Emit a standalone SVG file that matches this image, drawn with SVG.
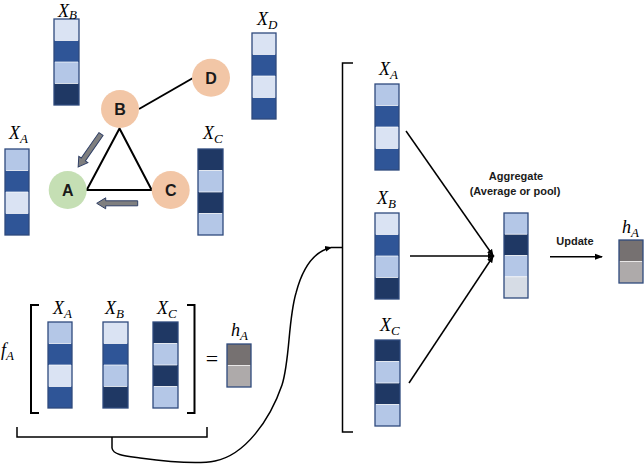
<svg xmlns="http://www.w3.org/2000/svg" width="644" height="466" viewBox="0 0 644 466">
<defs>
<style>
.L{fill:#b4c7e7}.M{fill:#2f5597}.V{fill:#dae3f3}.N{fill:#1f3864}.G{fill:#d6dce5}.H1{fill:#767171}.H2{fill:#aeaaaa}
.sep{stroke:#ffffff;stroke-width:1;stroke-opacity:0.7}
.box{fill:none;stroke:#2f4a7d;stroke-width:1.3}
.lbl{font-family:"Liberation Serif",serif;font-style:italic;font-size:18px;fill:#000}
.sub{font-size:13px}
.node{stroke:none}
.nt{font-family:"Liberation Sans",Arial,sans-serif;font-weight:bold;font-size:16px;fill:#1a1a1a;text-anchor:middle}
.bt{font-family:"Liberation Sans",Arial,sans-serif;font-weight:bold;font-size:11px;fill:#1a1a1a;text-anchor:middle}
.ln{fill:none;stroke:#000;stroke-width:2}
.thin{fill:none;stroke:#000;stroke-width:1.5}
.garrow{fill:#7f7f7f;stroke:#2f3f66;stroke-width:1}
</style>
<marker id="ah" markerWidth="8" markerHeight="8" refX="7" refY="4" orient="auto" markerUnits="userSpaceOnUse">
<path d="M0,1 L8,4 L0,7 Z" fill="#000"/>
</marker>
<marker id="ahs" markerWidth="7" markerHeight="7" refX="6" refY="3.5" orient="auto" markerUnits="userSpaceOnUse">
<path d="M0,0.5 L7,3.5 L0,6.5 Z" fill="#000"/>
</marker>
</defs>

<!-- connectors -->
<g id="connectors">
<line class="ln" x1="139" y1="109" x2="193" y2="78"/>
<polygon class="ln" points="119.5,128.5 86.7,190 151.7,190" stroke-linejoin="miter"/>
<path class="garrow" d="M0,-2.5 L31,-2.5 L31,-5.5 L40,0 L31,5.5 L31,2.5 L0,2.5 Z" transform="translate(101,134) rotate(124.8)"/>
<path class="garrow" d="M0,-2.5 L32,-2.5 L32,-5.5 L41,0 L32,5.5 L32,2.5 L0,2.5 Z" transform="translate(137.7,203.3) rotate(180)"/>
<line class="thin" x1="406" y1="131" x2="493" y2="255.5" marker-end="url(#ahs)"/>
<line class="thin" x1="410" y1="256" x2="494" y2="256" marker-end="url(#ahs)"/>
<line class="thin" x1="409" y1="383" x2="493" y2="256.5" marker-end="url(#ahs)"/>
<line class="thin" x1="550" y1="256.7" x2="602" y2="256.7" marker-end="url(#ah)"/>
<path class="thin" d="M112,437 L112,448 C113,455 125,456 140,458 C170,462 200,464 215,461 C245,455 270,420 282,385 C290,360 288,320 296,293 C302,270 312,252 331,247.5" marker-end="url(#ahs)"/>
<path class="thin" d="M353,63 L342.5,63 L342.5,432 L353,432 M331,247.5 L342.5,247.5"/>
<path class="thin" d="M17,427 L17,437 L207,437 L207,427"/>
<path class="ln" d="M39,305 L31,305 L31,413 L39,413"/>
<path class="ln" d="M187,305 L194.5,305 L194.5,413 L187,413"/>
</g>

<!-- graph nodes -->
<g id="node-A"><circle class="node" cx="67.7" cy="190" r="19" fill="#c5dfb4"/><text class="nt" x="67.7" y="196">A</text></g>
<g id="node-B"><circle class="node" cx="120" cy="109" r="19" fill="#f2c6a6"/><text class="nt" x="120" y="115">B</text></g>
<g id="node-C"><circle class="node" cx="170.7" cy="190" r="19" fill="#f2c6a6"/><text class="nt" x="170.7" y="196">C</text></g>
<g id="node-D"><circle class="node" cx="211" cy="77.7" r="19" fill="#f2c6a6"/><text class="nt" x="211" y="83.7">D</text></g>

<!-- vectors -->
<g id="vec-XB-top">
<rect class="V" x="54" y="19" width="25" height="21.5"/><rect class="M" x="54" y="40.5" width="25" height="21.5"/><rect class="L" x="54" y="62" width="25" height="21.5"/><rect class="N" x="54" y="83.5" width="25" height="21.5"/>
<path class="sep" d="M55,40.5 H78 M55,62 H78 M55,83.5 H78"/><rect class="box" x="54" y="19" width="25" height="86"/>
<text class="lbl" x="58" y="16.5">X<tspan class="sub" dy="2">B</tspan></text>
</g>
<g id="vec-XD">
<rect class="V" x="252" y="33" width="24" height="21.5"/><rect class="M" x="252" y="54.5" width="24" height="21.5"/><rect class="V" x="252" y="76" width="24" height="21.5"/><rect class="M" x="252" y="97.5" width="24" height="21.5"/>
<path class="sep" d="M253,54.5 H275 M253,76 H275 M253,97.5 H275"/><rect class="box" x="252" y="33" width="24" height="86"/>
<text class="lbl" x="257" y="25">X<tspan class="sub" dy="4">D</tspan></text>
</g>
<g id="vec-XA-left">
<rect class="L" x="5" y="149" width="24" height="21.5"/><rect class="M" x="5" y="170.5" width="24" height="21.5"/><rect class="V" x="5" y="192" width="24" height="21.5"/><rect class="M" x="5" y="213.5" width="24" height="21.5"/>
<path class="sep" d="M6,170.5 H28 M6,192 H28 M6,213.5 H28"/><rect class="box" x="5" y="149" width="24" height="86"/>
<text class="lbl" x="9" y="139">X<tspan class="sub" dy="4">A</tspan></text>
</g>
<g id="vec-XC-top">
<rect class="N" x="198" y="149" width="25" height="21.5"/><rect class="L" x="198" y="170.5" width="25" height="21.5"/><rect class="N" x="198" y="192" width="25" height="21.5"/><rect class="L" x="198" y="213.5" width="25" height="21.5"/>
<path class="sep" d="M199,170.5 H222 M199,192 H222 M199,213.5 H222"/><rect class="box" x="198" y="149" width="25" height="86"/>
<text class="lbl" x="203" y="139">X<tspan class="sub" dy="4">C</tspan></text>
</g>

<g id="vec-XA-mid">
<rect class="L" x="375" y="84" width="24" height="21.5"/><rect class="M" x="375" y="105.5" width="24" height="21.5"/><rect class="V" x="375" y="127" width="24" height="21.5"/><rect class="M" x="375" y="148.5" width="24" height="21.5"/>
<path class="sep" d="M376,105.5 H398 M376,127 H398 M376,148.5 H398"/><rect class="box" x="375" y="84" width="24" height="86"/>
<text class="lbl" x="379" y="75">X<tspan class="sub" dy="4">A</tspan></text>
</g>
<g id="vec-XB-mid">
<rect class="V" x="375" y="213" width="24" height="21.5"/><rect class="M" x="375" y="234.5" width="24" height="21.5"/><rect class="L" x="375" y="256" width="24" height="21.5"/><rect class="N" x="375" y="277.5" width="24" height="21.5"/>
<path class="sep" d="M376,234.5 H398 M376,256 H398 M376,277.5 H398"/><rect class="box" x="375" y="213" width="24" height="86"/>
<text class="lbl" x="377" y="204">X<tspan class="sub" dy="4">B</tspan></text>
</g>
<g id="vec-XC-mid">
<rect class="N" x="375" y="340" width="25" height="21.5"/><rect class="L" x="375" y="361.5" width="25" height="21.5"/><rect class="N" x="375" y="383" width="25" height="21.5"/><rect class="L" x="375" y="404.5" width="25" height="21.5"/>
<path class="sep" d="M376,361.5 H399 M376,383 H399 M376,404.5 H399"/><rect class="box" x="375" y="340" width="25" height="86"/>
<text class="lbl" x="380" y="331">X<tspan class="sub" dy="4">C</tspan></text>
</g>

<g id="vec-aggregate">
<rect class="L" x="504" y="213" width="24" height="21.25"/><rect class="N" x="504" y="234.25" width="24" height="21.25"/><rect class="L" x="504" y="255.5" width="24" height="21.25"/><rect class="G" x="504" y="276.75" width="24" height="21.25"/>
<path class="sep" d="M505,234.25 H527 M505,255.5 H527 M505,276.75 H527"/><rect class="box" x="504" y="213" width="24" height="85"/>
<text class="bt" x="516" y="180">Aggregate</text>
<text class="bt" x="515" y="195">(Average or pool)</text>
</g>

<g id="update-label"><text class="bt" x="575" y="245">Update</text></g>

<g id="vec-hA-right">
<rect class="H1" x="619" y="240" width="24" height="21.5"/><rect class="H2" x="619" y="261.5" width="24" height="21.5"/>
<path class="sep" d="M620,261.5 H642"/><rect class="box" x="619" y="240" width="24" height="43"/>
<text class="lbl" x="622" y="233">h<tspan class="sub" dy="4">A</tspan></text>
</g>

<g id="vec-XA-bottom">
<rect class="L" x="48" y="322" width="24" height="21.5"/><rect class="M" x="48" y="343.5" width="24" height="21.5"/><rect class="V" x="48" y="365" width="24" height="21.5"/><rect class="M" x="48" y="386.5" width="24" height="21.5"/>
<path class="sep" d="M49,343.5 H71 M49,365 H71 M49,386.5 H71"/><rect class="box" x="48" y="322" width="24" height="86"/>
<text class="lbl" x="53" y="314">X<tspan class="sub" dy="4">A</tspan></text>
</g>
<g id="vec-XB-bottom">
<rect class="V" x="103" y="322" width="25" height="21.5"/><rect class="M" x="103" y="343.5" width="25" height="21.5"/><rect class="L" x="103" y="365" width="25" height="21.5"/><rect class="N" x="103" y="386.5" width="25" height="21.5"/>
<path class="sep" d="M104,343.5 H127 M104,365 H127 M104,386.5 H127"/><rect class="box" x="103" y="322" width="25" height="86"/>
<text class="lbl" x="105" y="314">X<tspan class="sub" dy="4">B</tspan></text>
</g>
<g id="vec-XC-bottom">
<rect class="N" x="153" y="322" width="25" height="21.5"/><rect class="L" x="153" y="343.5" width="25" height="21.5"/><rect class="N" x="153" y="365" width="25" height="21.5"/><rect class="L" x="153" y="386.5" width="25" height="21.5"/>
<path class="sep" d="M154,343.5 H177 M154,365 H177 M154,386.5 H177"/><rect class="box" x="153" y="322" width="25" height="86"/>
<text class="lbl" x="157" y="314">X<tspan class="sub" dy="4">C</tspan></text>
</g>

<g id="fA-label"><text class="lbl" x="1" y="356">f<tspan class="sub" dy="4">A</tspan></text></g>
<g id="equals"><text x="212" y="366" font-family="Liberation Serif,serif" font-size="22" text-anchor="middle">=</text></g>

<g id="vec-hA-bottom">
<rect class="H1" x="227" y="344" width="24" height="21.5"/><rect class="H2" x="227" y="365.5" width="24" height="21.5"/>
<path class="sep" d="M228,365.5 H250"/><rect class="box" x="227" y="344" width="24" height="43"/>
<text class="lbl" x="231" y="336">h<tspan class="sub" dy="4">A</tspan></text>
</g>
</svg>
